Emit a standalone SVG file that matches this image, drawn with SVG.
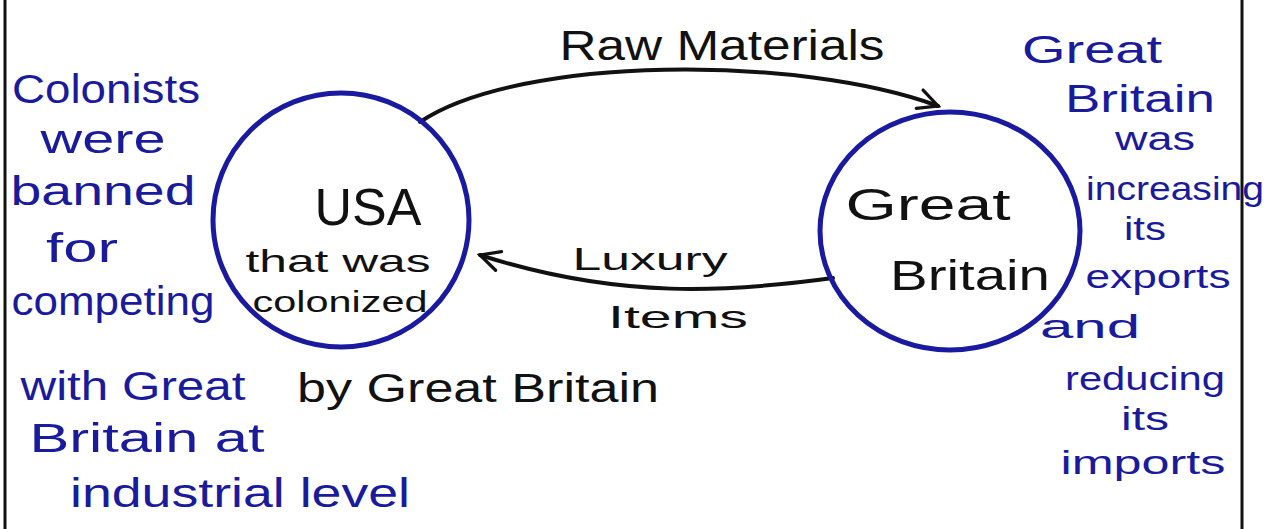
<svg xmlns="http://www.w3.org/2000/svg" width="1281" height="529" viewBox="0 0 1281 529">
<defs>
<style>
.hand{font-family:"Liberation Sans",Arial,sans-serif;}
.blk{fill:#111;}
.blu{fill:#1a1a9c;}
.node{fill:none;stroke:#1a1aa0;stroke-width:5;}
.conn{fill:none;stroke:#111;stroke-width:4;stroke-linecap:round;}
.border{stroke:#111;stroke-width:3;}
</style>
<marker id="arr" viewBox="0 0 20 20" refX="18" refY="10" markerWidth="9" markerHeight="9" markerUnits="userSpaceOnUse" orient="auto">
<path d="M2,2 L18,10 L2,18" fill="none" stroke="#111" stroke-width="3"/>
</marker>
<marker id="arr2" viewBox="0 0 24 24" refX="21" refY="12" markerWidth="26" markerHeight="26" markerUnits="userSpaceOnUse" orient="auto">
<path d="M3,3 L21,12 L3,21" fill="none" stroke="#111" stroke-width="3" stroke-linecap="round"/>
</marker>
</defs>
<rect width="1281" height="529" fill="#fff"/>
<line class="border" x1="5" y1="0" x2="5" y2="529"/>
<line class="border" x1="1242" y1="0" x2="1242" y2="529"/>

<g id="connectors">
<path class="conn" d="M420,122 C520,55 800,55 938,106" marker-end="url(#arr2)"/>
<path class="conn" d="M833,278 C730,292 620,300 480,255" marker-end="url(#arr2)"/>
<text class="hand blk" x="722" y="60" font-size="42" text-anchor="middle" textLength="325" lengthAdjust="spacingAndGlyphs">Raw Materials</text>
<text class="hand blk" x="650" y="270" font-size="32" text-anchor="middle" textLength="155" lengthAdjust="spacingAndGlyphs">Luxury</text>
<text class="hand blk" x="678" y="328" font-size="32" text-anchor="middle" textLength="140" lengthAdjust="spacingAndGlyphs">Items</text>
</g>

<g id="node-usa">
<ellipse class="node" cx="341" cy="220" rx="128" ry="127"/>
<text class="hand blk" x="368" y="225" font-size="52" text-anchor="middle">USA</text>
<text class="hand blk" x="338" y="272" font-size="32" text-anchor="middle" textLength="185" lengthAdjust="spacingAndGlyphs">that was</text>
<text class="hand blk" x="340" y="312" font-size="30" text-anchor="middle" textLength="175" lengthAdjust="spacingAndGlyphs">colonized</text>
<text class="hand blk" x="478" y="402" font-size="40" text-anchor="middle" textLength="362" lengthAdjust="spacingAndGlyphs">by Great Britain</text>
</g>

<g id="node-gb">
<ellipse class="node" cx="950" cy="231" rx="130" ry="119"/>
<text class="hand blk" x="928" y="220" font-size="44" text-anchor="middle" textLength="165" lengthAdjust="spacingAndGlyphs">Great</text>
<text class="hand blk" x="970" y="290" font-size="42" text-anchor="middle" textLength="160" lengthAdjust="spacingAndGlyphs">Britain</text>
</g>

<g id="note-left">
<text class="hand blu" x="106" y="103" font-size="40" text-anchor="middle" textLength="188" lengthAdjust="spacingAndGlyphs">Colonists</text>
<text class="hand blu" x="103" y="153" font-size="40" text-anchor="middle" textLength="125" lengthAdjust="spacingAndGlyphs">were</text>
<text class="hand blu" x="103" y="205" font-size="40" text-anchor="middle" textLength="185" lengthAdjust="spacingAndGlyphs">banned</text>
<text class="hand blu" x="82" y="262" font-size="40" text-anchor="middle" textLength="72" lengthAdjust="spacingAndGlyphs">for</text>
<text class="hand blu" x="113" y="315" font-size="40" text-anchor="middle" textLength="203" lengthAdjust="spacingAndGlyphs">competing</text>
<text class="hand blu" x="133" y="400" font-size="40" text-anchor="middle" textLength="225" lengthAdjust="spacingAndGlyphs">with Great</text>
<text class="hand blu" x="147" y="452" font-size="40" text-anchor="middle" textLength="235" lengthAdjust="spacingAndGlyphs">Britain at</text>
<text class="hand blu" x="240" y="507" font-size="40" text-anchor="middle" textLength="340" lengthAdjust="spacingAndGlyphs">industrial level</text>
</g>

<g id="note-right">
<text class="hand blu" x="1092" y="63" font-size="38" text-anchor="middle" textLength="140" lengthAdjust="spacingAndGlyphs">Great</text>
<text class="hand blu" x="1140" y="112" font-size="38" text-anchor="middle" textLength="150" lengthAdjust="spacingAndGlyphs">Britain</text>
<text class="hand blu" x="1155" y="150" font-size="34" text-anchor="middle" textLength="80" lengthAdjust="spacingAndGlyphs">was</text>
<text class="hand blu" x="1175" y="200" font-size="34" text-anchor="middle" textLength="178" lengthAdjust="spacingAndGlyphs">increasing</text>
<text class="hand blu" x="1145" y="240" font-size="34" text-anchor="middle" textLength="42" lengthAdjust="spacingAndGlyphs">its</text>
<text class="hand blu" x="1158" y="288" font-size="34" text-anchor="middle" textLength="145" lengthAdjust="spacingAndGlyphs">exports</text>
<text class="hand blu" x="1090" y="338" font-size="34" text-anchor="middle" textLength="100" lengthAdjust="spacingAndGlyphs">and</text>
<text class="hand blu" x="1145" y="390" font-size="34" text-anchor="middle" textLength="160" lengthAdjust="spacingAndGlyphs">reducing</text>
<text class="hand blu" x="1145" y="430" font-size="34" text-anchor="middle" textLength="48" lengthAdjust="spacingAndGlyphs">its</text>
<text class="hand blu" x="1143" y="474" font-size="34" text-anchor="middle" textLength="165" lengthAdjust="spacingAndGlyphs">imports</text>
</g>
</svg>
